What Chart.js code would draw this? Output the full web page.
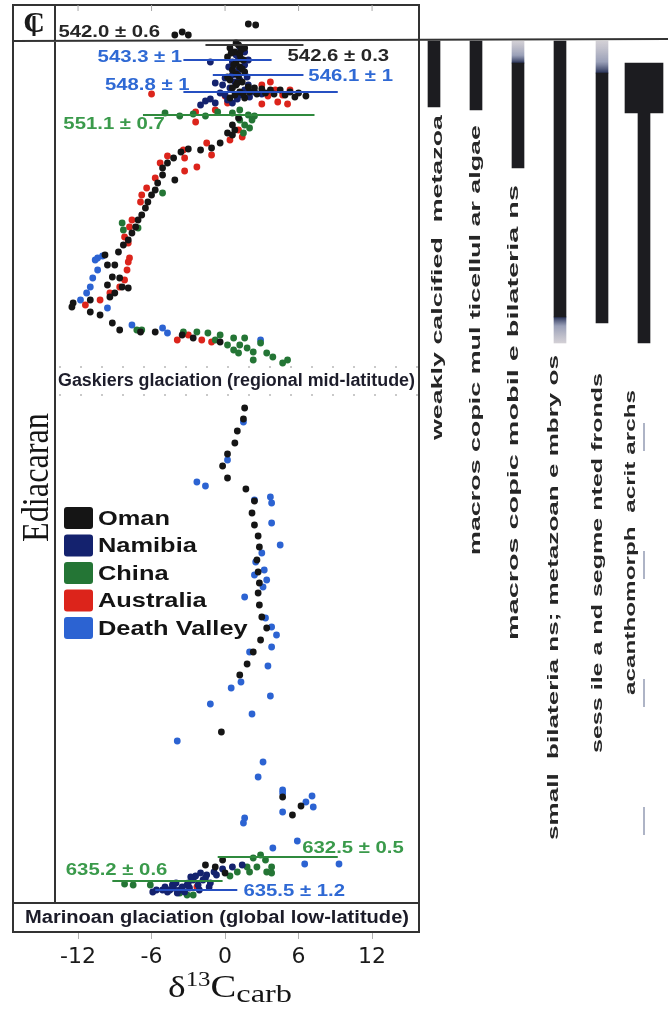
<!DOCTYPE html>
<html>
<head>
<meta charset="utf-8">
<script src="https://cdn.jsdelivr.net/npm/chart.js@4.4.1/dist/chart.umd.min.js"></script>
<style>
  html, body { margin: 0; padding: 0; background: #fff; }
  #wrap { position: relative; width: 668px; height: 1010px; }
  #wrap canvas { position: absolute; left: 0; top: 0; }
</style>
</head>
<body>
<div id="wrap">
  <canvas id="isotopes" width="668" height="1010"></canvas>
  <canvas id="ranges" width="668" height="1010"></canvas>
</div>
<script>
// d13C (per mil) vs stratigraphic height (arbitrary units, 0 = top of Marinoan)
const xTicks = [-12, -6, 0, 6, 12];
const seriesNames = ['Oman', 'Namibia', 'China', 'Australia', 'Death Valley'];

const oman = [
  [-4.1,870],[-3.5,873],[-3.0,870],[1.9,881],[2.5,880],
  [1.1,860],[0.4,857],[1.6,857],[0.8,853],[1.2,850],[0.2,848],[1.5,845],[0.9,842],[1.2,838],[0.6,835],
  [1.6,833],[1.1,829],[0.4,825],[1.4,823],[0.9,820],[1.9,818],[2.4,817],[3.0,816],[3.7,815],[4.5,815],
  [5.3,813],[6.0,812],[6.6,809],[2.0,813],[1.2,813],[0.8,810],[0.4,807],[1.6,807],
  [0.5,852],[1.3,846],[0.7,840],[1.4,836],[0.9,831],[0.2,828],[1.0,822],[1.5,811],[2.6,811],[3.3,812],
  [4.0,811],[4.9,810],[5.7,808],[0.6,817],[1.3,855],[0.9,862],
  [1.1,787],[0.6,780],[0.8,775],[0.2,772],
  [0.6,770],[-0.4,762],[-1.1,757],[-2.0,755],[-3.0,756],[-3.6,753],[-4.1,725],[-4.2,747],[-4.7,742],
  [-5.1,737],[-5.1,730],[-5.5,722],[-5.7,715],[-6.0,710],[-6.3,703],[-6.5,697],[-6.8,690],[-7.1,685],
  [-7.3,678],[-7.6,672],[-7.9,665],[-8.3,660],[-8.7,653],
  [-9.8,650],[-9.6,640],[-9.0,640],[-9.2,628],[-8.6,627],[-9.6,620],[-8.4,618],[-9.0,612],[-7.9,617],
  [-9.4,608],[-11.0,605],[-12.4,602],[-12.5,598],[-11.0,593],[-10.2,590],[-9.2,582],[-8.6,575],
  [-6.9,573],[-5.7,573],[-3.5,570],[-2.6,567],[-0.4,563],
  [1.6,497],[1.5,486],[1.0,474],[0.8,462],[0.2,451],[-0.2,439],[0.2,427],[1.7,416],[2.4,404],[2.2,392],
  [2.4,380],[2.7,369],[2.8,358],[2.6,345],[2.7,333],[2.8,322],[2.7,312],[2.8,300],[3.0,288],[3.4,277],
  [2.9,265],[2.3,253],[1.8,241],[1.2,230],
  [-0.3,173],[4.7,108],[6.2,99],[5.5,90],[-1.6,40],[-0.8,38],[0.0,32],[-0.2,45]
];
const namibia = [
  [1.2,858],[1.6,853],[1.1,847],[0.6,843],[-1.2,843],[1.6,840],[1.1,835],[0.6,830],[0.0,827],[1.2,825],
  [-0.8,822],[-0.2,820],[0.4,817],[1.6,815],[2.4,813],[1.2,810],[0.0,810],[-1.6,804],[-0.8,802],[0.2,805],
  [0.6,802],[-2.0,800],
  [0.9,850],[1.9,845],[0.3,838],[1.8,828],[0.8,823],[1.9,820],[-0.4,812],[1.0,806],[-1.2,806],[2.0,808],[3.0,811],
  [-2.0,32],[-1.5,30],[-2.6,25],[-1.8,25],[-3.1,20],[-4.2,17],[-5.1,15],[-3.7,15],[-2.9,17],[-1.2,22],
  [-0.7,30],[1.4,40],[-4.3,20],[-5.6,15],[-4.7,13],[-3.3,13],[-2.4,29],
  [-4.0,22],[-3.5,18],[-2.2,20],[-1.6,27],[-0.9,33],[-2.8,28],[-4.9,18],[-5.9,13],[-3.9,12],[-2.1,15],
  [-1.3,18],[-0.2,36],[0.6,38],[-3.0,22],[-4.5,15]
];
const china = [
  [-4.9,792],[-3.7,789],[-2.6,791],[-1.6,789],[-0.6,793],[0.6,792],[1.2,795],[1.9,790],[2.2,785],[1.6,780],
  [1.2,785],[2.0,777],[2.4,789],[1.5,772],
  [-5.1,712],[-8.4,682],[-8.3,675],[-7.1,677],
  [-7.2,575],[-6.8,575],[-3.4,573],[-2.3,573],[-1.4,572],[-0.4,570],[0.7,567],[1.6,567],[1.2,560],[0.7,555],
  [1.8,557],[2.3,553],[2.9,562],[3.4,552],[3.9,548],[5.1,545],[4.7,542],[0.2,560],[-0.8,565],[2.3,545],[1.1,552],
  [2.9,50],[2.3,47],[3.3,45],[1.8,38],[2.6,38],[3.8,38],[3.4,33],[1.0,33],[3.8,32],[2.0,33],[0.4,29],
  [-7.5,20],[-6.1,20],[-3.1,10],[-3.7,12],[-2.6,10],[-4.7,15],[-8.2,21]
];
const australia = [
  [-6.0,811],[3.0,820],[3.7,823],[4.1,815],[4.7,810],[3.5,809],[4.3,803],[5.1,801],[3.0,801],[5.3,815],
  [0.0,809],[-2.4,793],[-0.8,795],[0.2,802],[-2.4,783],[1.1,775],
  [1.4,768],[0.4,765],[-1.5,762],[-1.1,750],[-3.4,755],[-3.3,747],[-2.3,738],[-3.3,734],[-4.7,749],[-5.3,742],
  [-5.7,727],[-6.4,717],[-6.8,710],[-6.9,703],[-7.6,685],[-7.8,678],[-8.2,668],[-7.9,662],[-7.8,647],[-7.9,643],
  [-8.0,635],[-8.2,625],[-8.6,618],[-9.4,612],[-10.2,605],[-11.4,600],
  [-3.9,565],[-1.9,565],[-1.1,563],[-3.0,570],
  [-2.3,18]
];
const deathValley = [
  [-10.4,647],[-10.0,649],[-10.6,645],[-10.4,635],[-10.8,627],[-11.0,618],[-11.3,612],[-11.8,605],[-9.6,597],
  [-7.6,580],[-5.1,577],[-4.7,572],[2.9,565],
  [1.5,483],[0.2,445],[-2.3,423],[-1.6,419],[3.7,408],[3.8,402],[2.4,405],[3.8,382],[4.5,360],[3.0,352],
  [2.5,343],[3.2,335],[2.4,330],[3.4,325],[3.1,318],[1.6,308],[3.3,287],[3.8,278],[4.2,270],[3.8,258],
  [2.0,253],[3.5,239],[1.3,223],[0.5,217],
  [-1.2,201],[3.7,209],[2.2,191],[-3.9,164],[3.1,143],[2.7,128],[4.7,115],[4.7,112],[7.1,109],[6.6,103],
  [7.2,98],[4.7,93],[1.6,87],[1.5,82],[3.9,57],[5.9,64],[6.5,41],[9.3,41]
];
const seriesData = [oman, namibia, china, australia, deathValley];

// dated ash beds (Ma) and their level
const ageText = ['542.0 ± 0.6', '542.6 ± 0.3', '543.3 ± 1', '546.1 ± 1', '548.8 ± 1',
                 '551.1 ± 0.7', '632.5 ± 0.5', '635.2 ± 0.6', '635.5 ± 1.2'];
const ageSection = ['Oman', 'Oman', 'Namibia', 'Namibia', 'Namibia', 'China', 'China', 'China', 'Namibia'];
const ageLevel = [872, 860, 845, 830, 813, 790, 48, 24, 15];
const ageSpanLo = [null, -1.6, -3.4, -1.0, -3.4, -6.7, -0.6, -9.2, -5.7];
const ageSpanHi = [null, 6.4, 3.8, 6.4, 9.2, 7.3, 9.2, -0.2, 1.0];

// stratigraphic markers
const cambrianBase = 864;
const gaskiersBand = [510, 538];
const marinoanTop = 2;

// fossil ranges (same height units)
const taxa = ['weakly calcified  metazoa', 'macros copic mul ticellul ar algae', 'macros copic mobil e bilateria ns',
              'small  bilateria ns; metazoan e mbry os', 'sess ile a nd segme nted fronds', 'acanthomorph  acrit archs'];
const rangeObserved = [[798,864],[795,864],[737,842],[588,864],[582,832],[562,792]];
const rangeUncertain = [null, null, [842,864], [562,588], [832,864], null];
const acritarchAbundant = [null, null, null, null, null, [792,842]];
const acritarchPossible = [482, 55];

// ---- styling / layout ----
const seriesColors = ['#151515', '#14226e', '#247535', '#dc241b', '#2c63d2'];
const ageTextColor = { Oman: '#262626', Namibia: '#2f69d4', China: '#3a9a4b' };
const ageLineColor = { Oman: '#3a3a3a', Namibia: '#2650c2', China: '#2f8a3d' };
// label anchor: [d13C, level, align]
const ageLabelAt = [[-13.6,872,'left'],[5.1,848,'left'],[-3.5,847,'right'],[6.8,828,'left'],[-2.9,819,'right'],
                    [-13.2,780,'left'],[6.3,56,'left'],[-13.0,34,'left'],[1.5,13,'left']];
const frameLeft = 13;
const labelGap = [8, 15, 17, 12, 50, 47];
const labelLength = [325, 430, 455, 485, 380, 305];
const labelShift = [4, 0, -4, -6, -4, -13];

function stretchText(ctx, text, x, midY, sx, font, color, align) {
  ctx.save();
  ctx.font = font;
  ctx.fillStyle = color;
  ctx.textBaseline = 'middle';
  ctx.textAlign = 'left';
  const w = ctx.measureText(text).width * sx;
  let left = x;
  if (align === 'right') left = x - w;
  if (align === 'center') left = x - w / 2;
  ctx.translate(left, midY);
  ctx.scale(sx, 1);
  ctx.fillText(text, 0, 0);
  ctx.restore();
}
function fitText(ctx, text, left, midY, width, font, color) {
  ctx.save();
  ctx.font = font;
  const w = ctx.measureText(text).width;
  ctx.restore();
  stretchText(ctx, text, left, midY, width / w, font, color, 'left');
}

const framePlugin = {
  id: 'frame',
  beforeDatasetsDraw(chart) {
    const { ctx, chartArea: a, scales: { y } } = chart;
    const yTop = y.getPixelForValue(gaskiersBand[1]);
    const yBot = y.getPixelForValue(gaskiersBand[0]);
    ctx.save();
    ctx.strokeStyle = '#b8b8b8';
    ctx.lineWidth = 1.5;
    ctx.setLineDash([2, 19]);
    [yTop, yBot].forEach(yy => {
      ctx.beginPath(); ctx.moveTo(a.left + 4, yy); ctx.lineTo(a.right, yy); ctx.stroke();
    });
    ctx.restore();
    fitText(ctx, 'Gaskiers glaciation (regional mid-latitude)', a.left + 3, (yTop + yBot) / 2,
            a.right - a.left - 7, 'bold 18px "Liberation Sans"', '#1d1d2b');
  },
  afterDatasetsDraw(chart) {
    const { ctx, chartArea: a, scales: { x, y } } = chart;

    // age lines and labels
    ageText.forEach((t, i) => {
      const sec = ageSection[i];
      if (ageSpanLo[i] !== null) {
        ctx.save();
        ctx.strokeStyle = ageLineColor[sec];
        ctx.lineWidth = 2.2;
        ctx.beginPath();
        ctx.moveTo(x.getPixelForValue(ageSpanLo[i]), y.getPixelForValue(ageLevel[i]));
        ctx.lineTo(x.getPixelForValue(ageSpanHi[i]), y.getPixelForValue(ageLevel[i]));
        ctx.stroke();
        ctx.restore();
      }
      const at = ageLabelAt[i];
      stretchText(ctx, t, x.getPixelForValue(at[0]), y.getPixelForValue(at[1]), 1.27,
                  'bold 16px "Liberation Sans"', ageTextColor[sec], at[2]);
    });

    // Marinoan box
    const mTop = y.getPixelForValue(marinoanTop);
    ctx.save();
    ctx.fillStyle = '#fff';
    ctx.fillRect(frameLeft, mTop, a.right - frameLeft, a.bottom - mTop);
    ctx.restore();
    fitText(ctx, 'Marinoan glaciation (global low-latitude)', frameLeft + 12, (mTop + a.bottom) / 2 + 1,
            a.right - frameLeft - 22, 'bold 18px "Liberation Sans"', '#1b1b28');

    // frame
    const cb = y.getPixelForValue(cambrianBase);
    ctx.save();
    ctx.strokeStyle = '#333';
    ctx.lineWidth = 2;
    ctx.strokeRect(frameLeft, a.top, a.right - frameLeft, a.bottom - a.top);
    ctx.beginPath();
    ctx.moveTo(a.left, a.top); ctx.lineTo(a.left, mTop);
    ctx.moveTo(frameLeft, mTop); ctx.lineTo(a.right, mTop);
    ctx.moveTo(frameLeft, cb); ctx.lineTo(chart.width, cb - 2);
    ctx.stroke();
    // top ticks
    ctx.strokeStyle = '#aaa';
    ctx.lineWidth = 1;
    xTicks.forEach(v => {
      const px = x.getPixelForValue(v);
      ctx.beginPath(); ctx.moveTo(px, a.top); ctx.lineTo(px, a.top + 6); ctx.stroke();
    });
    ctx.restore();

    // Cambrian symbol
    const cx = (frameLeft + a.left) / 2, cy = (a.top + cb) / 2;
    ctx.save();
    ctx.font = 'bold 30px "Liberation Serif"';
    ctx.fillStyle = '#1a1a1a';
    ctx.textAlign = 'center';
    ctx.textBaseline = 'middle';
    ctx.fillText('C', cx, cy + 1);
    ctx.strokeStyle = '#1a1a1a';
    ctx.lineWidth = 3;
    ctx.beginPath(); ctx.moveTo(cx, cy - 7); ctx.lineTo(cx, cy + 13); ctx.stroke();
    ctx.restore();

    // Ediacaran
    ctx.save();
    ctx.translate(a.left - 7, 542);
    ctx.rotate(-Math.PI / 2);
    ctx.font = '38px "Liberation Serif"';
    const ew = ctx.measureText('Ediacaran').width;
    ctx.scale(129 / ew, 1);
    ctx.fillStyle = '#151515';
    ctx.textBaseline = 'alphabetic';
    ctx.fillText('Ediacaran', 0, 0);
    ctx.restore();

    // legend
    const lx = a.left + 9, ly = 507;
    chart.data.datasets.forEach((ds, i) => {
      const top = ly + i * 27.5;
      ctx.save();
      ctx.fillStyle = ds.backgroundColor;
      ctx.beginPath();
      ctx.roundRect(lx, top, 29, 22, 3);
      ctx.fill();
      ctx.restore();
      stretchText(ctx, ds.label, lx + 34, top + 12, 1.27, 'bold 20px "Liberation Sans"', '#141414', 'left');
    });

    // axis title: d13C carb
    const parts = [
      { t: 'δ', font: '30px "Liberation Serif"', dy: 0 },
      { t: '13', font: '20px "Liberation Serif"', dy: -11 },
      { t: 'C', font: '31px "Liberation Serif"', dy: 0 },
      { t: 'carb', font: '26px "Liberation Serif"', dy: 5 }
    ];
    ctx.save();
    let total = 0;
    parts.forEach(p => { ctx.font = p.font; p.w = ctx.measureText(p.t).width; total += p.w; });
    const sx = 124 / total;
    ctx.translate(x.getPixelForValue(0) + 5 - 62, 997);
    ctx.scale(sx, 1);
    ctx.fillStyle = '#151515';
    ctx.textBaseline = 'alphabetic';
    let cur = 0;
    parts.forEach(p => { ctx.font = p.font; ctx.fillText(p.t, cur, p.dy); cur += p.w; });
    ctx.restore();
  }
};

new Chart(document.getElementById('isotopes'), {
  type: 'scatter',
  data: {
    datasets: seriesNames.map((name, i) => ({
      label: name,
      data: seriesData[i].map(p => ({ x: p[0], y: p[1] })),
      backgroundColor: seriesColors[i],
      borderWidth: 0,
      pointRadius: 3.4,
      pointHoverRadius: 3.4
    }))
  },
  options: {
    responsive: false,
    animation: false,
    layout: { padding: { left: 55, right: 249, top: 5, bottom: 0 } },
    plugins: { legend: { display: false }, tooltip: { enabled: false } },
    scales: {
      x: {
        type: 'linear',
        min: -13.88,
        max: 15.83,
        afterBuildTicks: axis => { axis.ticks = xTicks.map(v => ({ value: v })); },
        afterFit: axis => { axis.height = 78; },
        border: { display: false },
        grid: { drawOnChartArea: false, drawTicks: true, tickLength: 7, color: '#b0b0b0' },
        ticks: { padding: 5, color: '#1a1a1a', font: { family: 'DejaVu Sans', size: 22 } }
      },
      y: { type: 'linear', display: false, min: -27, max: 900 }
    }
  },
  plugins: [framePlugin]
});

// soft fade on the uncertain part of a range, dark where it meets the observed part
function uncertainFill(c) {
  const r = rangeUncertain[c.dataIndex];
  const area = c.chart.chartArea;
  if (!r || !area) return 'rgba(140,140,155,0.6)';
  const y = c.chart.scales.y;
  const joinsBelow = r[0] >= rangeObserved[c.dataIndex][1];
  const yJoin = y.getPixelForValue(joinsBelow ? r[0] : r[1]);
  const yFar = y.getPixelForValue(joinsBelow ? r[1] : r[0]);
  const g = c.chart.ctx.createLinearGradient(0, yJoin, 0, yFar);
  g.addColorStop(0, '#273156');
  g.addColorStop(0.35, 'rgba(120,128,160,0.75)');
  g.addColorStop(1, 'rgba(175,170,180,0.55)');
  return g;
}

const taxonLabels = {
  id: 'taxonLabels',
  afterDraw(chart) {
    const { ctx, scales: { x, y } } = chart;
    taxa.forEach((t, i) => {
      const lows = [rangeObserved[i], rangeUncertain[i]].filter(Boolean).map(r => r[0]);
      const top = y.getPixelForValue(Math.min(...lows)) + labelGap[i];
      ctx.save();
      ctx.translate(x.getPixelForValue(i) + labelShift[i], top + labelLength[i]);
      ctx.rotate(-Math.PI / 2);
      ctx.font = 'bold 15px "Liberation Sans"';
      const w = ctx.measureText(t).width;
      ctx.scale(labelLength[i] / w, 1);
      ctx.textBaseline = 'middle';
      ctx.fillStyle = '#262626';
      ctx.fillText(t, 0, 0);
      ctx.restore();
    });
  }
};

new Chart(document.getElementById('ranges'), {
  type: 'bar',
  data: {
    labels: taxa,
    datasets: [
      { label: 'observed', data: rangeObserved, backgroundColor: '#1c1c20', barThickness: 12, grouped: false, order: 1 },
      { label: 'uncertain', data: rangeUncertain, backgroundColor: uncertainFill, barThickness: 12, grouped: false, order: 2 },
      { label: 'abundant', data: acritarchAbundant, backgroundColor: '#1c1c20', barThickness: 38, grouped: false, order: 1 },
      {
        type: 'line', label: 'possible',
        data: acritarchPossible.map(v => ({ x: taxa[5], y: v })),
        borderColor: 'rgba(120,130,160,0.6)', borderWidth: 2, borderDash: [28, 100],
        pointRadius: 0, order: 3
      }
    ]
  },
  options: {
    responsive: false,
    animation: false,
    layout: { padding: { left: 413, right: 3, top: 5, bottom: 78 } },
    plugins: { legend: { display: false }, tooltip: { enabled: false } },
    scales: {
      x: { display: false },
      y: { display: false, min: -27, max: 900 }
    }
  },
  plugins: [taxonLabels]
});
</script>
</body>
</html>
